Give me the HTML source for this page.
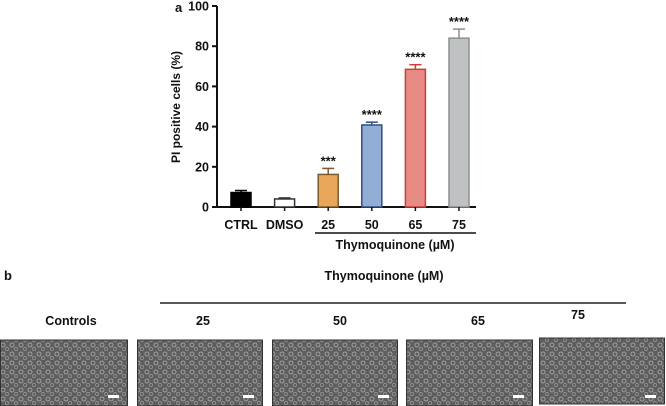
<!DOCTYPE html>
<html><head><meta charset="utf-8"><style>
body{margin:0;background:#fff;font-family:"Liberation Sans",Arial,sans-serif;}
svg{display:block}
text{font-family:"Liberation Sans",Arial,sans-serif;font-weight:bold;fill:#111}
</style></head><body>
<svg id="fig" width="666" height="406" viewBox="0 0 666 406">
<defs>
<pattern id="cells" width="9" height="9" patternUnits="userSpaceOnUse">
<rect width="9" height="9" fill="#5e5e5e"/>
<circle cx="3" cy="3" r="2" fill="none" stroke="#b0b0b0" stroke-width="0.8"/>
<circle cx="7" cy="7" r="1.6" fill="none" stroke="#9a9a9a" stroke-width="0.7"/>
</pattern>
</defs>
<text x="175" y="12" font-size="13">a</text>
<g id="chart"></g>
<text x="4" y="280" font-size="13">b</text>
<text x="384" y="280" font-size="12.5" text-anchor="middle">Thymoquinone (µM)</text>
<line x1="160" y1="303" x2="626" y2="303" stroke="#222" stroke-width="1.5"/>
<g id="micro"></g>
</svg>
<script>
const categories=["CTRL","DMSO","25","50","65","75"];
const values=[7.2,4.0,16.2,40.8,68.5,84.0];
const errors=[1.0,0.5,3.0,1.4,2.3,4.5];
const stars=["","","***","****","****","****"];
const yTicks=[0,20,40,60,80,100];
const fills=["#000","#fff","#e8a65a","#93aed4","#e98b85","#bfc2c3"];
const strokes=["#000","#333","#7a5a2e","#2f4f82","#c8403a","#8d8e8c"];
const NS="http://www.w3.org/2000/svg";
const x0=217,yBase=207,yTop=6;
const y=v=>yBase-(v/100)*(yBase-yTop);
const xc=i=>241+i*43.6;
const g=document.getElementById('chart');
function mk(t,a,p){const e=document.createElementNS(NS,t);for(const k in a)e.setAttribute(k,a[k]);(p||g).appendChild(e);return e;}
let ax=mk('line',{x1:x0,y1:yTop,x2:x0,y2:yBase,stroke:'#111','stroke-width':2});

let bx=mk('line',{x1:x0,y1:yBase,x2:476,y2:yBase,stroke:'#111','stroke-width':2});

yTicks.forEach(t=>{
 mk('line',{x1:x0-5,y1:y(t),x2:x0,y2:y(t),stroke:'#111','stroke-width':2});
 const tx=mk('text',{x:x0-8,y:y(t)+4.5,'font-size':12.5,'text-anchor':'end'});tx.textContent=t;
 
});
const yt=mk('text',{x:180,y:107,'font-size':12,'text-anchor':'middle',transform:'rotate(-90 180 107)'});
yt.textContent='PI positive cells (%)';
categories.forEach((c,i)=>{
 const cx=xc(i),w=20;
 const eb=mk('line',{x1:cx,y1:y(values[i]+errors[i]),x2:cx,y2:y(values[i]),stroke:strokes[i],'stroke-width':1.5});
 mk('line',{x1:cx-6,y1:y(values[i]+errors[i]),x2:cx+6,y2:y(values[i]+errors[i]),stroke:strokes[i],'stroke-width':1.5});
 
 const b=mk('rect',{x:cx-w/2,y:y(values[i]),width:w,height:yBase-y(values[i]),fill:fills[i],stroke:strokes[i],'stroke-width':1.5});
 
 mk('line',{x1:cx,y1:yBase,x2:cx,y2:yBase+4,stroke:'#111','stroke-width':1.5});
 const l=mk('text',{x:cx,y:229,'font-size':12.5,'text-anchor':'middle'});l.textContent=c;
 
 if(stars[i]){const s=mk('text',{x:cx,y:y(values[i]+errors[i])-3,'font-size':13,'text-anchor':'middle'});s.textContent=stars[i];
 }
});
const br=mk('line',{x1:315,y1:233,x2:476,y2:233,stroke:'#111','stroke-width':1.5});

const tq=mk('text',{x:395,y:249,'font-size':12.5,'text-anchor':'middle'});tq.textContent='Thymoquinone (µM)';

const m=document.getElementById('micro');
const panels=[["Controls",0,127,71,325],["25",137,262,203,325],["50",272,397,340,325],["65",406,532,478,325],["75",539,664,578,319]];
panels.forEach(p=>{
 const t=mk('text',{x:p[3],y:p[4],'font-size':12.5,'text-anchor':'middle'},m);t.textContent=p[0];
 
 const r=mk('rect',{x:p[1]+0.5,y:p[0]==="75"?338:340,width:p[2]-p[1],height:66,fill:'url(#cells)',stroke:'#333','stroke-width':1},m);
 
 const sb=mk('rect',{x:p[2]-19,y:395,width:11,height:3,fill:'#fff'},m);
 
});
</script>
</body></html>
